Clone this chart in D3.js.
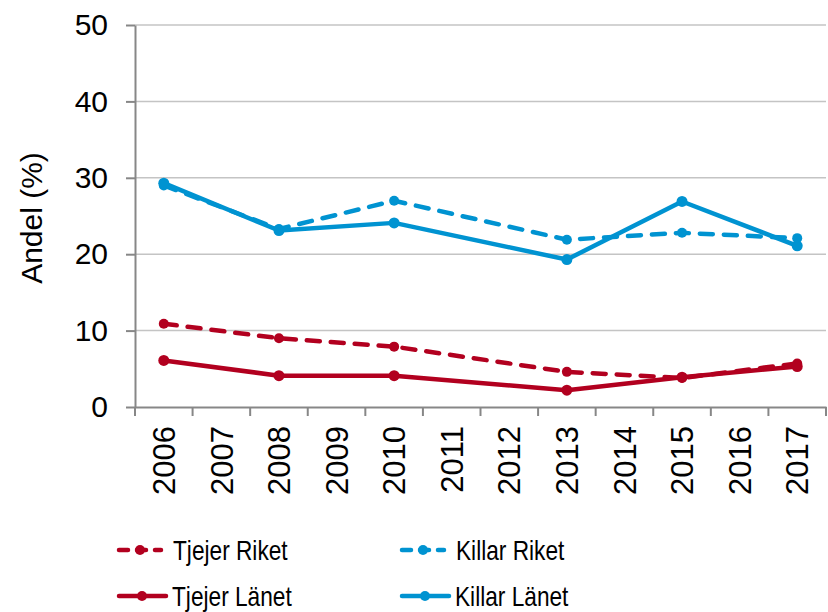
<!DOCTYPE html>
<html>
<head>
<meta charset="utf-8">
<script src="https://cdn.jsdelivr.net/npm/d3@7"></script>
<style>
  body { margin: 0; background: #fff; }
  text { font-family: "Liberation Sans", Arial, sans-serif; fill: #000; }
</style>
</head>
<body>
<div id="chart"></div>
<script>
// all years on the axis
var years = ["2006", "2007", "2008", "2009", "2010", "2011", "2012", "2013", "2014", "2015", "2016", "2017"];
// years that have values
var dataYears = ["2006", "2008", "2010", "2013", "2015", "2017"];

var tjejerRiket = [10.9, 9.0, 7.9, 4.6, 3.8, 5.7];
var killarRiket = [29.0, 23.3, 27.0, 21.9, 22.8, 22.1];
var tjejerLanet = [6.1, 4.1, 4.1, 2.2, 3.9, 5.3];
var killarLanet = [29.3, 23.1, 24.1, 19.3, 26.9, 21.1];

var yTicks = [0, 10, 20, 30, 40, 50];

var red = "#B2001F";
var blue = "#0093D1";

var series = [
    { name: "Tjejer Riket", values: tjejerRiket, color: red, dashed: true },
    { name: "Killar Riket", values: killarRiket, color: blue, dashed: true },
    { name: "Tjejer Länet", values: tjejerLanet, color: red, dashed: false },
    { name: "Killar Länet", values: killarLanet, color: blue, dashed: false }
];

var svgWidth = 828, svgHeight = 612;
var plot = { left: 135, right: 826, top: 25, bottom: 407 };

var svg = d3.select("#chart").append("svg")
    .attr("width", svgWidth)
    .attr("height", svgHeight);

var x = d3.scaleBand().domain(years).range([plot.left, plot.right]).padding(0);
var y = d3.scaleLinear().domain([0, 50]).range([plot.bottom, plot.top]);

// gridlines
svg.append("g").selectAll("line")
    .data(yTicks.filter(d => d > 0))
    .enter().append("line")
    .attr("x1", plot.left).attr("x2", plot.right)
    .attr("y1", d => y(d)).attr("y2", d => y(d))
    .attr("stroke", "#c4c4c4")
    .attr("stroke-width", 1.5);

// y axis
var yAxis = svg.append("g")
    .attr("transform", `translate(${plot.left},0)`)
    .call(d3.axisLeft(y).tickValues(yTicks).tickSize(9).tickPadding(18).tickSizeOuter(0));
yAxis.select(".domain").attr("stroke", "#878787").attr("stroke-width", 2);
yAxis.selectAll(".tick line").attr("stroke", "#878787").attr("stroke-width", 2);
yAxis.selectAll(".tick text")
    .style("font-family", "Liberation Sans, Arial, sans-serif")
    .style("font-size", "30px")
    .attr("fill", "#000");

// x axis
var xAxis = svg.append("g")
    .attr("transform", `translate(0,${plot.bottom})`)
    .call(d3.axisBottom(x).tickSize(0).tickSizeOuter(0));
xAxis.select(".domain").attr("stroke", "#878787").attr("stroke-width", 2);
xAxis.selectAll(".tick text")
    .style("font-family", "Liberation Sans, Arial, sans-serif")
    .style("font-size", "31px")
    .attr("fill", "#000")
    .attr("transform", "rotate(-90)")
    .attr("text-anchor", "end")
    .attr("x", -19)
    .attr("y", 0)
    .attr("dy", "0.36em");

// category boundary ticks
var bounds = years.map(d => x(d)).concat([x(years[years.length - 1]) + x.bandwidth()]);
xAxis.append("g").selectAll("line")
    .data(bounds)
    .enter().append("line")
    .attr("x1", d => d).attr("x2", d => d)
    .attr("y1", 0).attr("y2", 9)
    .attr("stroke", "#878787")
    .attr("stroke-width", 2);

// y axis title
svg.append("text")
    .attr("transform", `translate(42,218) rotate(-90)`)
    .attr("text-anchor", "middle")
    .style("font-size", "30px")
    .text("Andel (%)");

// lines
var line = d3.line()
    .x((d, i) => x(dataYears[i]) + x.bandwidth() / 2)
    .y(d => y(d));

series.forEach(function(s) {
    var g = svg.append("g");
    g.append("path")
        .datum(s.values)
        .attr("d", line)
        .attr("fill", "none")
        .attr("stroke", s.color)
        .attr("stroke-width", 4.5)
        .attr("stroke-linejoin", "round")
        .attr("stroke-linecap", "round")
        .attr("stroke-dasharray", s.dashed ? "13,11" : null);
    g.selectAll("circle")
        .data(s.values)
        .enter().append("circle")
        .attr("cx", (d, i) => x(dataYears[i]) + x.bandwidth() / 2)
        .attr("cy", d => y(d))
        .attr("r", s.dashed ? 5 : 5.5)
        .attr("fill", s.color);
});

// legend
var legendPos = [
    { lx: 117, ty: 550 },
    { lx: 400, ty: 550 },
    { lx: 117, ty: 596 },
    { lx: 400, ty: 596 }
];
series.forEach(function(s, i) {
    var p = legendPos[i];
    var g = svg.append("g").attr("transform", `translate(${p.lx},${p.ty})`);
    g.append("line")
        .attr("x1", 2).attr("x2", s.dashed ? 44 : 49)
        .attr("y1", 0).attr("y2", 0)
        .attr("stroke", s.color)
        .attr("stroke-width", 4.5)
        .attr("stroke-linecap", "round")
        .attr("stroke-dasharray", s.dashed ? "9,9" : null);
    g.append("circle")
        .attr("cx", s.dashed ? 23 : 25).attr("cy", 0)
        .attr("r", 5)
        .attr("fill", s.color);
    g.append("text")
        .attr("transform", `translate(${s.dashed ? 56 : 55},0) scale(0.81,1)`)
        .attr("dy", "0.36em")
        .style("font-size", "28px")
        .text(s.name);
});
</script>
</body>
</html>
